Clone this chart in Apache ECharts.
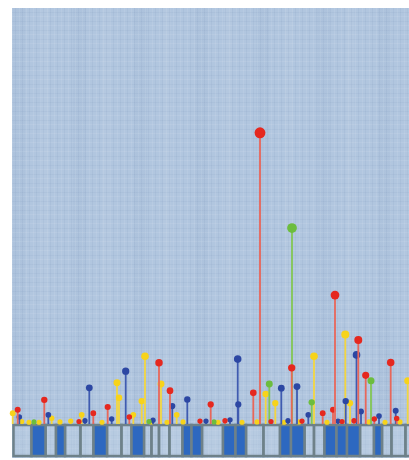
<!DOCTYPE html>
<html><head><meta charset="utf-8">
<script src="https://cdn.jsdelivr.net/npm/echarts@6/dist/echarts.min.js"></script>
<style>
html,body{margin:0;padding:0;background:#fff;}
#wrap{position:relative;width:409px;height:460px;}
#bg{position:absolute;left:12px;top:8px;width:397px;height:450px;
background-color:#b1c6df;
background-image:
 repeating-linear-gradient(90deg, rgba(255,255,255,0.08) 0px, rgba(255,255,255,0.08) 1px, transparent 1px, transparent 3px, rgba(60,90,140,0.06) 3px, rgba(60,90,140,0.06) 4px, transparent 4px, transparent 7px),
 repeating-linear-gradient(0deg, rgba(255,255,255,0.08) 0px, rgba(255,255,255,0.08) 1px, transparent 1px, transparent 4px, rgba(60,90,140,0.05) 4px, rgba(60,90,140,0.05) 5px, transparent 5px, transparent 9px),
 repeating-linear-gradient(90deg, rgba(70,100,150,0.035) 0px, rgba(70,100,150,0.035) 13px, transparent 13px, transparent 29px, rgba(255,255,255,0.04) 29px, rgba(255,255,255,0.04) 37px, transparent 37px, transparent 61px);}
#chart{position:absolute;left:0;top:0;width:409px;height:460px;}
</style></head>
<body><div id="wrap"><div id="bg"></div><div id="chart"></div></div>
<script>
// gene position axis (0..397), mutation count axis (0..100)
const redPos    = [5.7, 32.3, 81.3, 95.7, 117.3, 147, 158, 198.7, 241.3, 248, 279.7, 310.7, 321, 323, 346.3, 353.7, 362.3, 378.7, 384.7, 67, 188, 213, 259, 290, 330, 342];
const redCount  = [3.4, 5.8, 2.6, 4.1, 1.7, 14.7, 8.0, 4.7, 7.5, 70, 13.5, 2.6, 3.4, 31, 20.2, 11.7, 1.2, 14.8, 1.3, 0.6, 0.7, 0.8, 0.6, 0.7, 0.6, 0.8];
const yellowPos   = [0.7, 9.7, 39.7, 58.7, 69.7, 105, 107, 121.3, 129.7, 133, 149, 164.7, 253.7, 263.3, 302, 333.3, 338, 395.7, 17, 27, 48, 90, 139, 155, 171, 206, 230, 245, 272, 287, 315, 357, 373, 388];
const yellowCount = [2.6, 0.6, 1.4, 0.7, 2.2, 9.9, 6.3, 2.2, 5.5, 16.3, 9.6, 2.2, 7.2, 5.0, 16.3, 21.5, 5.0, 10.4, 0.4, 0.4, 0.5, 0.4, 0.5, 0.4, 0.5, 0.4, 0.4, 0.5, 0.4, 0.5, 0.4, 0.5, 0.4, 0.5];
const bluePos    = [7.3, 36.3, 77.3, 99.7, 113.7, 160.3, 175.3, 225.7, 226.3, 269.3, 285, 296.3, 333.7, 344.5, 349, 367, 383.7, 73, 141, 194, 218, 276, 326];
const blueCount  = [1.7, 2.2, 8.7, 1.2, 12.7, 4.3, 5.9, 15.6, 4.7, 8.6, 9.0, 2.2, 5.5, 16.6, 3.0, 1.9, 3.2, 0.8, 0.9, 0.7, 1.0, 0.8, 0.7];
const greenPos   = [257.3, 280, 299.7, 359, 22, 137, 202];
const greenCount = [9.6, 47.1, 5.2, 10.4, 0.5, 0.6, 0.5];
// exon blocks [start, end] along the gene
const lightExons = [[1.5,19.5],[33.5,44],[53,68.5],[68.5,81.5],[95,109.5],[109.5,119.5],[132,139.5],[139.5,147],[147,157.5],[157.5,170.5],[190,211],[234,251.5],[251.5,268],[292.5,302],[302,312.5],[348,362],[370,379.5],[379.5,393.5],[393.5,402]];
const darkExons  = [[19.5,33.5],[44,53],[81.5,95],[119.5,132],[170.5,179.5],[179.5,190],[211,223.5],[223.5,234],[268,279],[279,292.5],[312.5,324.5],[324.5,335],[335,348],[362,370]];

function zip(a,b){return a.map((v,i)=>[v,b[i]]);}
function lolli(name, pos, cnt, head, stem){
  return {
    name, type:'custom', xAxisIndex:0, yAxisIndex:0,
    data: zip(pos,cnt),
    renderItem(params, api){
      const x = api.value(0), v = api.value(1);
      const p0 = api.coord([x,0]), p1 = api.coord([x,v]);
      const r = (4.6 + Math.sqrt(v)*0.75)/2;
      return {type:'group', children:[
        {type:'line', shape:{x1:p0[0],y1:p0[1],x2:p1[0],y2:p1[1]}, style:{stroke:stem,lineWidth:1.8}},
        {type:'circle', shape:{cx:p1[0],cy:p1[1],r:r}, style:{fill:head}}
      ]};
    }
  };
}
function exons(data, fill){
  return {
    type:'custom', xAxisIndex:1, yAxisIndex:1, data,
    renderItem(params, api){
      const a = api.coord([api.value(0),1]), b = api.coord([api.value(1),0]);
      return {type:'rect', shape:{x:a[0],y:a[1],width:b[0]-a[0],height:b[1]-a[1]},
        style:{fill:fill, stroke:'#6e8189', lineWidth:2.5}};
    }
  };
}
const chart = echarts.init(document.getElementById('chart'));
chart.setOption({
  animation:false,
  grid:[{left:12,right:0,top:8,height:416},{left:12,right:0,top:425,height:31}],
  xAxis:[{type:'value',min:0,max:397,show:false,gridIndex:0},{type:'value',min:0,max:397,show:false,gridIndex:1}],
  yAxis:[{type:'value',min:0,max:100,show:false,gridIndex:0},{type:'value',min:0,max:1,show:false,gridIndex:1}],
  series:[
    exons(lightExons,'rgba(196,211,230,0.35)'),
    exons(darkExons,'#2d68c0'),
    lolli('yellow', yellowPos, yellowCount, '#f7d31a', '#f3d640'),
    lolli('blue', bluePos, blueCount, '#2c47a3', '#3f5bb0'),
    lolli('green', greenPos, greenCount, '#6cbd3e', '#82c654'),
    lolli('red', redPos, redCount, '#e5281f', '#e8675a')
  ]
});
</script></body></html>
